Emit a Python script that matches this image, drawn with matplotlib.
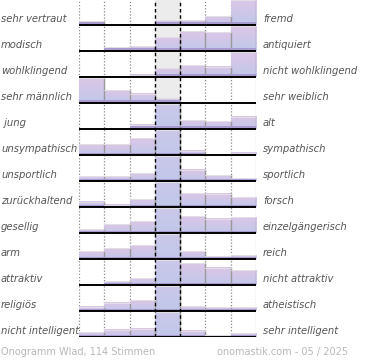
import numpy as np
import matplotlib
matplotlib.use('Agg')
from matplotlib import pyplot as plt
from matplotlib import rcParams
from matplotlib.patches import Rectangle

rcParams['font.family'] = 'DejaVu Sans'

#%% data
left_labels = ['sehr vertraut', 'modisch', 'wohlklingend', 'sehr männlich', ' jung',
               'unsympathisch', 'unsportlich', 'zurückhaltend', 'gesellig', 'arm',
               'attraktiv', 'religiös', 'nicht intelligent']
right_labels = ['fremd', 'antiquiert', 'nicht wohlklingend', 'sehr weiblich', 'alt',
                'sympathisch', 'sportlich', 'forsch', 'einzelgängerisch', 'reich',
                'nicht attraktiv', 'atheistisch', 'sehr intelligent']

# bar scores per row, 7 steps (25 = full cell, bigger values are clipped)
scores = [
    [4.0, 0.0, 0.0, 5.0, 5.0, 9.0, 25.0],
    [0.0, 3.7, 4.7, 14.0, 19.7, 18.7, 25.0],
    [0.5, 0.5, 2.3, 8.7, 11.7, 10.3, 25.0],
    [25.0, 13.0, 9.3, 4.7, 0.0, 0.0, 0.0],
    [0.0, 0.0, 4.5, 60.0, 9.0, 7.7, 12.5],
    [11.0, 11.0, 17.0, 60.0, 4.5, 1.0, 2.5],
    [5.0, 5.0, 8.0, 60.0, 11.5, 6.0, 2.7],
    [5.5, 2.3, 7.7, 60.0, 14.0, 13.5, 10.0],
    [3.7, 9.0, 11.7, 60.0, 17.0, 14.3, 15.7],
    [7.7, 11.0, 14.0, 60.0, 7.7, 2.7, 3.7],
    [0.5, 3.7, 7.0, 60.0, 21.7, 17.3, 14.7],
    [4.3, 8.3, 10.7, 60.0, 5.0, 3.7, 3.7],
    [5.0, 7.3, 8.3, 60.0, 6.3, 1.7, 4.0],
]
full = 25.0
footer_left = 'Onogramm Wlad, 114 Stimmen'
footer_right = 'onomastik.com - 05 / 2025'

nrow = len(scores)
ncol = len(scores[0])

#%% colours
pink = np.array([0xdc, 0xc6, 0xe7]) / 255.
blue = np.array([0xc0, 0xc8, 0xea]) / 255.
txtc = '#555555'

fig = plt.figure(figsize=(3.7, 3.6), dpi=100)
ax = fig.add_axes([79/370, 23/360, 177/370, 338/360])
ax.set_xlim(0, ncol)
ax.set_ylim(0, nrow)
ax.axis('off')

ax.axvspan(3, 4, color='#ececec', zorder=0)
for x in [0, 1, 2, 5, 6, 7]:
    ax.axvline(x, color='#8a8a8a', lw=0.9, ls=(0, (1, 1.5)), zorder=1)

cellpx = 26.0
for i, row in enumerate(scores):
    base = nrow - 1 - i
    for j, v in enumerate(row):
        if v <= 0:
            continue
        vis = min(v, full)
        h = vis / cellpx
        tt = np.linspace(0, vis / v, 40)[:, None]
        grad = blue[None, None, :] + (pink - blue)[None, None, :] * tt[:, :, None]
        grad = np.repeat(grad, 2, axis=1)
        ax.imshow(grad, extent=(j, j + 1, base, base + h), origin='lower',
                  aspect='auto', interpolation='bilinear', zorder=2)
        strip = min(2.5, vis) / cellpx
        ax.add_patch(Rectangle((j, base), 1, strip, color='#a99ad0', lw=0, zorder=3))
        ax.plot([j + 1, j + 1], [base, base + h], color='#999999', lw=1.0, zorder=3)
        ax.plot([j, j + 1], [base + h, base + h], color='#e4e4e4', lw=0.6, zorder=3)
    ax.plot([0, ncol], [base, base], color='black', lw=1.4, zorder=5, solid_capstyle='butt')
    fig.text(1/370, 1 - (19 + 26*i)/360, left_labels[i], ha='left', va='center',
             fontsize=7.2, style='italic', color=txtc)
    fig.text(263/370, 1 - (19 + 26*i)/360, right_labels[i], ha='left', va='center',
             fontsize=7.2, style='italic', color=txtc)

for x in [3, 4]:
    ax.axvline(x, color='black', lw=1.0, ls=(0, (2.5, 2)), zorder=4)

ax.set_xlim(0, ncol)
ax.set_ylim(0, nrow)

fig.text(1/370, 1 - 352/360, footer_left, ha='left', va='center', fontsize=7.0, color='#b8b8b8')
fig.text(348/370, 1 - 352/360, footer_right, ha='right', va='center', fontsize=7.0, color='#b8b8b8')

fig.savefig('out.png', dpi=100)
